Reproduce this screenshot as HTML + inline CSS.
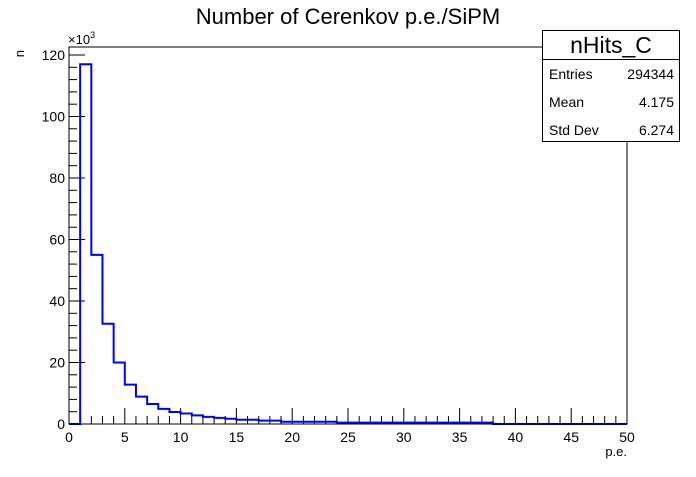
<!DOCTYPE html>
<html><head><meta charset="utf-8"><style>
body{margin:0;background:#fff;width:696px;height:472px;overflow:hidden;font-family:"Liberation Sans",sans-serif}
</style></head><body>
<svg width="696" height="472" font-family="Liberation Sans, sans-serif">
<text x="348" y="24" text-anchor="middle" font-size="22">Number of Cerenkov p.e./SiPM</text>
<g id="axes"></g>
<path id="hist" fill="none" stroke="#0000ff" stroke-width="2"/>
<rect x="69" y="47" width="558" height="377" fill="none" stroke="#000" stroke-width="1"/>
<text x="24" y="50" font-size="13" transform="rotate(-90 24 50)" text-anchor="end">n</text>
<text x="627" y="456" font-size="13" text-anchor="end">p.e.</text>
<text x="68" y="44" font-size="13">×10<tspan dy="-6" font-size="9">3</tspan></text>
<g>
<rect x="542.5" y="30.5" width="137" height="111" fill="#fff" stroke="#000"/>
<line x1="542" y1="59.5" x2="680" y2="59.5" stroke="#000"/>
<text x="611" y="53" font-size="23" text-anchor="middle">nHits_C</text>
<text x="549" y="79" font-size="14">Entries</text><text x="674" y="79" font-size="14" text-anchor="end">294344</text>
<text x="549" y="107" font-size="14">Mean</text><text x="674" y="107" font-size="14" text-anchor="end">4.175</text>
<text x="549" y="135" font-size="14">Std Dev</text><text x="674" y="135" font-size="14" text-anchor="end">6.274</text>
</g>
</svg>
<script>
const counts=[0,117,55,32.6,20,12.8,8.9,6.5,4.9,3.9,3.4,2.8,2.3,2.0,1.7,1.4,1.4,1.1,1.1,0.75,0.75,0.75,0.75,0.75,0.45,0.45,0.45,0.45,0.45,0.45,0.45,0.45,0.45,0.45,0.45,0.45,0.45,0.45,0,0,0,0,0,0,0,0,0,0,0,0];
const xTicks=[0,5,10,15,20,25,30,35,40,45,50];
const yTicks=[0,20,40,60,80,100,120];
const X0=69,X1=627,Y0=424,Y1=47,XMAX=50,YMAX=122.6;
const sx=v=>X0+(X1-X0)*v/XMAX, sy=v=>Y0-(Y0-Y1)*v/YMAX;
let d=`M${sx(0)},${sy(0)}`;
counts.forEach((c,i)=>{d+=` L${sx(i)},${sy(c)} L${sx(i+1)},${sy(c)}`;});
d+=` L${sx(counts.length)},${sy(0)}`;
document.getElementById('hist').setAttribute('d',d);
const g=document.getElementById('axes');const NS='http://www.w3.org/2000/svg';
function ln(x1,y1,x2,y2){const l=document.createElementNS(NS,'line');l.setAttribute('x1',x1);l.setAttribute('y1',y1);l.setAttribute('x2',x2);l.setAttribute('y2',y2);l.setAttribute('stroke','#000');


g.appendChild(l);}
function tx(x,y,s,a){const t=document.createElementNS(NS,'text');t.setAttribute('x',x);t.setAttribute('y',y);t.setAttribute('font-size','14');t.setAttribute('text-anchor',a);t.textContent=s;


g.appendChild(t);}
for(let v=0;v<=50;v++){ln(sx(v),Y0,sx(v),Y0-(v%5==0?16:8));}
xTicks.forEach(v=>tx(sx(v),442,String(v),'middle'));
for(let v=0;v<=120;v+=4){ln(X0,sy(v),X0+(v%20==0?16:8),sy(v));}
yTicks.forEach(v=>tx(X0-4,sy(v)+5,String(v),'end'));
</script>
</body></html>
